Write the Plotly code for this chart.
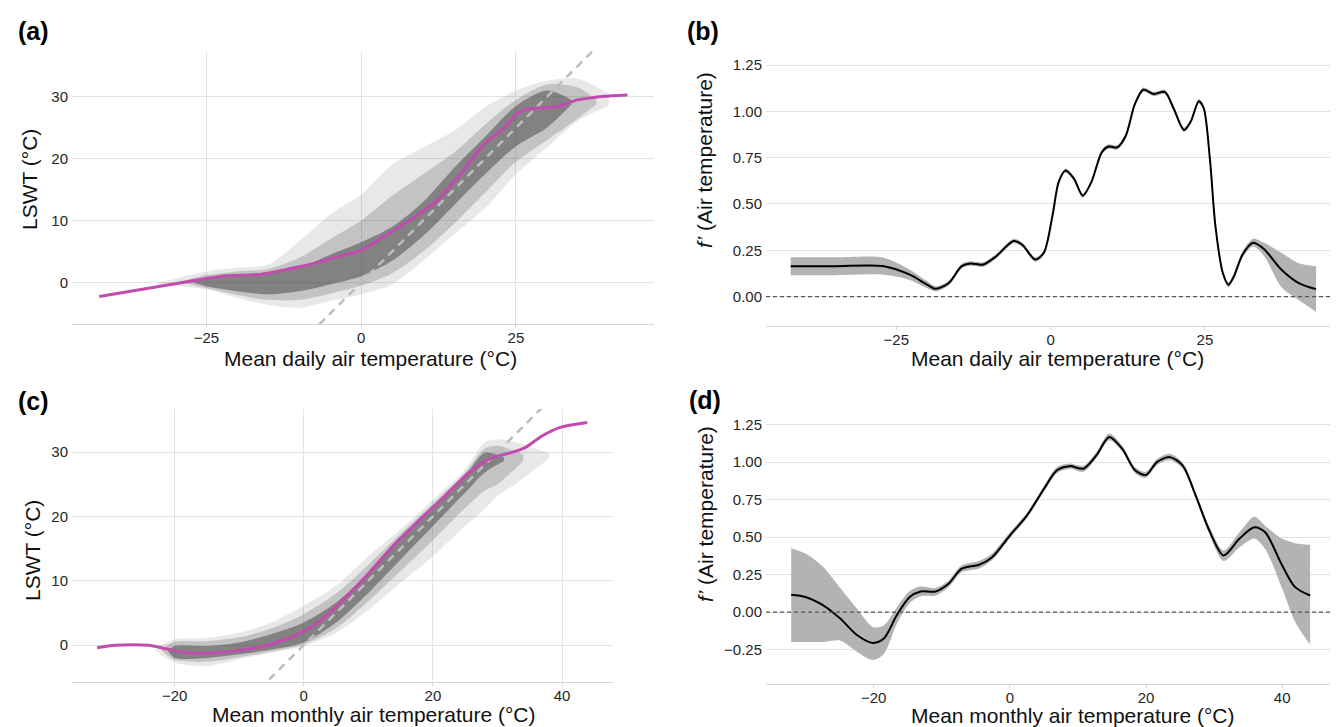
import plotly.graph_objects as go

# ---------------- data ----------------
# Panel (a): daily, lake-level curves summarised as density envelopes + global fit (magenta)
a_fit_x = [-42.3, -25, -21.8, -16.4, -12.1, -8.3, -3.4, -0.2, 6.85, 12.25, 16, 19.8, 23.1, 25.2, 26.8, 29, 31.7, 34.9, 39.3, 43]
a_fit_y = [-2.27, 0.65, 1.1, 1.3, 2.1, 2.9, 4.27, 5.1, 9.4, 13.2, 17.5, 22.3, 25.0, 27.3, 28.0, 28.2, 28.4, 29.5, 30.1, 30.3]
a_outer_x = [-33, -25, -20, -15, -10, -5, 0, 5, 10, 15, 20, 25, 30, 35, 40]
a_outer_lo = [-0.3, -1.1, -2.5, -3.6, -4.1, -3.0, -1.9, -0.3, 3.5, 7.8, 12.0, 17.5, 21.8, 26.1, 28.5]
a_outer_hi = [-0.1, 1.8, 2.4, 2.9, 6.7, 11.0, 14.2, 19.0, 21.8, 24.5, 28.3, 31.0, 32.6, 32.9, 30.5]
a_mid_x = [-29, -25, -20, -15, -10, -5, 0, 5, 10, 15, 20, 25, 30, 35, 38]
a_mid_lo = [0.0, -0.9, -2.0, -2.8, -2.8, -1.8, -0.5, 1.5, 5.0, 9.5, 14.5, 19.5, 23.0, 26.5, 28.8]
a_mid_hi = [0.2, 1.2, 1.8, 2.2, 4.0, 7.0, 10.0, 14.0, 17.5, 21.0, 25.5, 29.5, 32.0, 31.5, 29.5]
a_core_x = [-27, -25, -20, -15, -10, -5, 0, 5, 10, 15, 20, 25, 30, 34]
a_core_lo = [0.0, -0.6, -1.4, -1.9, -1.4, -0.3, 1.0, 3.5, 7.5, 12.5, 17.5, 22.0, 25.0, 28.8]
a_core_hi = [0.1, 0.75, 1.3, 1.6, 2.4, 4.5, 6.5, 9.0, 13.0, 18.5, 23.5, 28.5, 31.0, 29.5]

# Panel (b): derivative of daily fit
b_x = [-42.1, -35, -27, -22.8, -20, -18.6, -16.5, -14.4, -13, -10.9, -8.8, -6, -4.6, -2.5, -1.1, 0.3, 1.3, 2.4, 3.8,
       5.2, 6.6, 8.3, 9.4, 10.8, 12.2, 13.6, 15, 16.7, 18.5, 19.9, 21.6, 22.7, 24, 24.8, 25.8, 26.7, 27.9, 28.8,
       29.7, 31.1, 32.8, 34.6, 37.4, 40.2, 43]
b_y = [0.164, 0.164, 0.164, 0.118, 0.064, 0.042, 0.073, 0.164, 0.178, 0.173, 0.218, 0.30, 0.28, 0.20, 0.236, 0.436,
       0.618, 0.68, 0.636, 0.545, 0.618, 0.78, 0.81, 0.806, 0.87, 1.035, 1.117, 1.094, 1.105, 1.018, 0.90, 0.945,
       1.055, 1.018, 0.745, 0.38, 0.127, 0.064, 0.11, 0.227, 0.29, 0.255, 0.145, 0.073, 0.04]
b_lo = [0.115, 0.115, 0.118, 0.09, 0.045, 0.028, 0.06, 0.152, 0.166, 0.161, 0.206, 0.288, 0.268, 0.188, 0.224, 0.424,
        0.606, 0.668, 0.624, 0.533, 0.606, 0.768, 0.798, 0.794, 0.858, 1.023, 1.105, 1.082, 1.093, 1.006, 0.888,
        0.933, 1.043, 1.006, 0.733, 0.368, 0.115, 0.05, 0.095, 0.21, 0.27, 0.218, 0.05, -0.018, -0.082]
b_hi = [0.212, 0.212, 0.21, 0.145, 0.082, 0.056, 0.086, 0.176, 0.19, 0.185, 0.23, 0.312, 0.292, 0.212, 0.248, 0.448,
        0.63, 0.692, 0.648, 0.557, 0.63, 0.792, 0.822, 0.818, 0.882, 1.047, 1.129, 1.106, 1.117, 1.03, 0.912,
        0.957, 1.067, 1.03, 0.757, 0.392, 0.139, 0.078, 0.125, 0.245, 0.312, 0.29, 0.236, 0.18, 0.164]

# Panel (c): monthly
c_fit_x = [-32, -29.2, -26.6, -24, -21.4, -18.7, -16.1, -12.2, -8.3, -4.3, -0.4, 2.2, 6.2, 10.1, 14, 18, 21.9, 25.8,
           29.1, 31.7, 34.3, 36.9, 39.6, 43.9]
c_fit_y = [-0.41, -0.05, 0.05, -0.05, -0.57, -1.09, -1.3, -1.09, -0.57, 0.36, 1.9, 3.5, 7.1, 11.2, 15.6, 19.5, 23.2,
           27.0, 29.1, 29.8, 30.7, 32.5, 33.8, 34.6]
c_outer_x = [-23, -20, -15, -10, -5, 0, 5, 10, 15, 20, 25, 28, 30, 33, 38]
c_outer_lo = [-0.9, -2.7, -3.3, -2.2, -1.2, -0.15, 1.9, 5.5, 9.7, 13.8, 18.5, 21.1, 23.2, 25.2, 29.0]
c_outer_hi = [-0.6, 0.9, 1.1, 1.9, 3.5, 6.1, 9.2, 13.8, 18.0, 22.6, 27.3, 31.5, 32.0, 31.5, 29.8]
c_mid_x = [-22, -20, -15, -10, -5, 0, 5, 10, 15, 20, 25, 28, 30, 34]
c_mid_lo = [-0.9, -2.3, -2.6, -1.9, -1.0, 0.1, 2.6, 6.8, 11.5, 16.3, 21.3, 24.0, 25.0, 28.6]
c_mid_hi = [-0.7, 0.5, 0.6, 1.2, 2.6, 4.8, 8.0, 12.5, 17.3, 22.0, 26.8, 30.5, 31.0, 29.6]
c_core_x = [-21, -20, -15, -10, -5, 0, 5, 10, 15, 20, 25, 28, 31]
c_core_lo = [-1.0, -2.0, -2.0, -1.45, -0.7, 0.4, 3.5, 8.1, 13.3, 18.5, 23.7, 26.8, 28.6]
c_core_hi = [-0.8, -0.15, -0.15, 0.4, 1.7, 3.5, 6.6, 11.2, 16.4, 21.1, 26.3, 29.9, 29.2]

# Panel (d): derivative of monthly fit
d_x = [-32.1, -30, -27.4, -24.9, -22.4, -20.1, -18.5, -16.6, -14.7, -13.1, -10.9, -9, -7.1, -4.5, -2.6, 0, 2.5, 5,
       6.9, 8.8, 10.8, 12.7, 14.6, 16.5, 18.4, 20, 21.6, 23.5, 25.4, 27.3, 29.2, 31.4, 33.7, 35.9, 37.5, 40, 41.9, 44.1]
d_y = [0.115, 0.10, 0.044, -0.044, -0.155, -0.206, -0.177, -0.022, 0.10, 0.137, 0.137, 0.188, 0.288, 0.315, 0.366,
       0.51, 0.643, 0.82, 0.945, 0.973, 0.956, 1.044, 1.168, 1.089, 0.945, 0.914, 1.0, 1.033, 0.976, 0.776, 0.554,
       0.377, 0.488, 0.565, 0.532, 0.31, 0.166, 0.11]
d_lo = [-0.20, -0.20, -0.20, -0.19, -0.266, -0.32, -0.28, -0.08, 0.06, 0.105, 0.11, 0.165, 0.265, 0.29, 0.345, 0.49,
        0.625, 0.80, 0.925, 0.955, 0.935, 1.025, 1.145, 1.07, 0.925, 0.895, 0.98, 1.012, 0.955, 0.755, 0.53, 0.34,
        0.43, 0.49, 0.42, 0.155, -0.066, -0.217]
d_hi = [0.426, 0.39, 0.30, 0.16, 0.02, -0.10, -0.09, 0.03, 0.14, 0.17, 0.16, 0.21, 0.31, 0.34, 0.39, 0.53, 0.66,
        0.84, 0.965, 0.99, 0.975, 1.065, 1.19, 1.11, 0.965, 0.935, 1.02, 1.055, 0.995, 0.80, 0.58, 0.41, 0.53, 0.635,
        0.576, 0.488, 0.459, 0.448]

ref_x = [-10, 50]   # 1:1 line
ref_y = [-10, 50]

# tick labels
tick_daily = [-25, 0, 25]
tick_daily_txt = ["\u221225", "0", "25"]
tick_month = [-20, 0, 20, 40]
tick_month_txt = ["\u221220", "0", "20", "40"]
tick_lswt = [0, 10, 20, 30]
tick_b = [0, 0.25, 0.5, 0.75, 1.0, 1.25]
tick_b_txt = ["0.00", "0.25", "0.50", "0.75", "1.00", "1.25"]
tick_d = [-0.25, 0, 0.25, 0.5, 0.75, 1.0, 1.25]
tick_d_txt = ["\u22120.25", "0.00", "0.25", "0.50", "0.75", "1.00", "1.25"]

# ---------------- styling ----------------
W, H = 1338, 727
FONT = "Liberation Sans, Arial, Helvetica, sans-serif"
MAGENTA = "#c24bb0"
GRID = "#e3e3e3"
AXLINE = "#d6d6d6"
TXT = "#262626"
OUTER = "rgba(110,110,110,0.16)"
MID = "rgba(80,80,80,0.24)"
CORE = "rgba(40,40,40,0.42)"


def fx(p):
    return p / W


def fy(p):
    return 1 - p / H


fig = go.Figure()


def band(x, lo, hi, color, xa, ya):
    fig.add_trace(go.Scatter(x=x, y=lo, mode="lines", line=dict(width=0, shape="spline", smoothing=0.8),
                             hoverinfo="skip", showlegend=False, xaxis=xa, yaxis=ya))
    fig.add_trace(go.Scatter(x=x, y=hi, mode="lines", line=dict(width=0, shape="spline", smoothing=0.8),
                             fill="tonexty", fillcolor=color, hoverinfo="skip", showlegend=False,
                             xaxis=xa, yaxis=ya))


# Panel (a)
band(a_outer_x, a_outer_lo, a_outer_hi, OUTER, "x", "y")
band(a_mid_x, a_mid_lo, a_mid_hi, MID, "x", "y")
band(a_core_x, a_core_lo, a_core_hi, CORE, "x", "y")
fig.add_trace(go.Scatter(x=ref_x, y=ref_y, mode="lines", line=dict(color="#bdbdbd", width=2.5, dash="8px,6px"),
                         showlegend=False, xaxis="x", yaxis="y"))
fig.add_trace(go.Scatter(x=a_fit_x, y=a_fit_y, mode="lines",
                         line=dict(color=MAGENTA, width=3, shape="spline", smoothing=0.4),
                         showlegend=False, xaxis="x", yaxis="y"))

# Panel (b)
band(b_x, b_lo, b_hi, "#b3b3b3", "x2", "y2")
fig.add_trace(go.Scatter(x=b_x, y=b_y, mode="lines", line=dict(color="black", width=2, shape="spline", smoothing=0.8),
                         showlegend=False, xaxis="x2", yaxis="y2"))

# Panel (c)
band(c_outer_x, c_outer_lo, c_outer_hi, OUTER, "x3", "y3")
band(c_mid_x, c_mid_lo, c_mid_hi, MID, "x3", "y3")
band(c_core_x, c_core_lo, c_core_hi, CORE, "x3", "y3")
fig.add_trace(go.Scatter(x=ref_x, y=ref_y, mode="lines", line=dict(color="#bdbdbd", width=2.5, dash="8px,6px"),
                         showlegend=False, xaxis="x3", yaxis="y3"))
fig.add_trace(go.Scatter(x=c_fit_x, y=c_fit_y, mode="lines",
                         line=dict(color=MAGENTA, width=3, shape="spline", smoothing=0.8),
                         showlegend=False, xaxis="x3", yaxis="y3"))

# Panel (d)
band(d_x, d_lo, d_hi, "#b3b3b3", "x4", "y4")
fig.add_trace(go.Scatter(x=d_x, y=d_y, mode="lines", line=dict(color="black", width=2, shape="spline", smoothing=0.8),
                         showlegend=False, xaxis="x4", yaxis="y4"))


def xax(domain, rng, vals, txt, anchor, vgrid):
    return dict(domain=domain, range=rng, anchor=anchor, tickvals=vals, ticktext=txt,
                showgrid=vgrid, gridcolor=GRID, gridwidth=1, zeroline=False,
                showline=True, linecolor=AXLINE, linewidth=1.2, ticks="outside", ticklen=3,
                tickcolor=AXLINE, ticklabelstandoff=-3,
                tickfont=dict(family=FONT, size=15, color=TXT), fixedrange=True)


def yax(domain, rng, vals, txt, anchor):
    return dict(domain=domain, range=rng, anchor=anchor, tickvals=vals, ticktext=txt,
                showgrid=True, gridcolor=GRID, gridwidth=1, zeroline=False, showline=False,
                ticks="", ticklabelstandoff=3, tickfont=dict(family=FONT, size=15, color=TXT), fixedrange=True)


fig.update_layout(
    width=W, height=H, margin=dict(l=0, r=0, t=0, b=0),
    paper_bgcolor="white", plot_bgcolor="white", showlegend=False,
    xaxis=xax([fx(64), fx(646)], [-46.7, 47.3], tick_daily, tick_daily_txt, "y", True),
    yaxis=yax([fy(316), fy(43)], [-6.7, 37.4], tick_lswt, [str(v) for v in tick_lswt], "x"),
    xaxis2=xax([fx(758), fx(1334)], [-46.1, 47.2], tick_daily, tick_daily_txt, "y2", False),
    yaxis2=yax([fy(318), fy(43)], [-0.159, 1.326], tick_b, tick_b_txt, "x2"),
    xaxis3=xax([fx(64), fx(605)], [-35.9, 47.9], tick_month, tick_month_txt, "y3", True),
    yaxis3=yax([fy(674), fy(401)], [-5.75, 36.7], tick_lswt, [str(v) for v in tick_lswt], "x3"),
    xaxis4=xax([fx(758), fx(1328)], [-35.8, 47.9], tick_month, tick_month_txt, "y4", False),
    yaxis4=yax([fy(676), fy(401)], [-0.48, 1.354], tick_d, tick_d_txt, "x4"),
)

for xr, yr in (("x2 domain", "y2"), ("x4 domain", "y4")):
    fig.add_shape(type="line", xref=xr, yref=yr, x0=0, x1=1, y0=0, y1=0,
                  line=dict(color="#555555", width=1.2, dash="4px,3px"), layer="above")

annots = [
    ("<b>(a)</b>", 26, 23, 25, 0), ("<b>(b)</b>", 695, 23, 25, 0),
    ("<b>(c)</b>", 26, 393, 25, 0), ("<b>(d)</b>", 697, 392, 25, 0),
    ("Mean daily air temperature (°C)", 362, 350, 21, 0),
    ("Mean daily air temperature (°C)", 1049, 350, 21, 0),
    ("Mean monthly air temperature (°C)", 366, 706, 21, 0),
    ("Mean monthly air temperature (°C)", 1065, 707, 21, 0),
    ("LSWT (°C)", 22, 172, 21, -90),
    ("LSWT (°C)", 24, 543, 21, -90),
    ("<i>f’</i> (Air temperature)", 697, 152, 21, -90),
    ("<i>f’</i> (Air temperature)", 697, 506, 21, -90),
]
for text, x, y, size, ang in annots:
    fig.add_annotation(text=text, x=fx(x), y=fy(y), xref="paper", yref="paper", showarrow=False,
                       xanchor="center", yanchor="middle", textangle=ang,
                       font=dict(family=FONT, size=size, color="black" if size > 22 else "#111111"))

fig.write_html("out.html")
